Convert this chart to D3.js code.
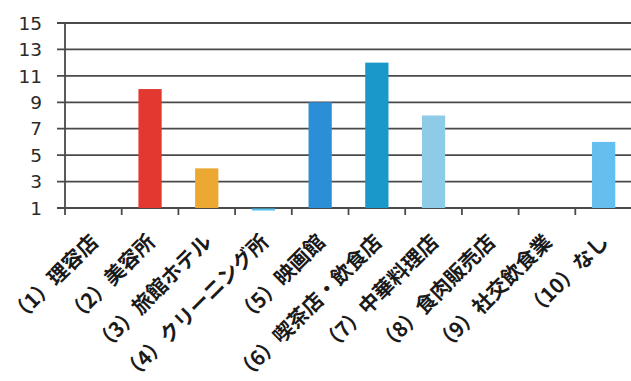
<!DOCTYPE html>
<html>
<head>
<meta charset="utf-8">
<script src="https://cdn.jsdelivr.net/npm/d3@7"></script>
<style>
  html, body { margin: 0; padding: 0; background: #fff; }
  svg { display: block; }
</style>
</head>
<body>
<svg id="chart" width="631" height="381"></svg>
<script>
// Categories (business types) and counts
const categories = [
  "（1）理容店",
  "（2）美容所",
  "（3）旅館ホテル",
  "（4）クリーニング所",
  "（5）映画館",
  "（6）喫茶店・飲食店",
  "（7）中華料理店",
  "（8）食肉販売店",
  "（9）社交飲食業",
  "（10）なし"
];
const counts = [0, 10, 4, 1, 9, 12, 8, 0, 0, 6];
const barColors = [
  "#e2382f", "#e2382f", "#eba832", "#4fc3ec", "#2a8fd6",
  "#1899c9", "#8dcbe6", "#64bff0", "#64bff0", "#64bff0"
];
const yTicks = [1, 3, 5, 7, 9, 11, 13, 15];

const svg = d3.select("#chart");
const plotLeft = 65, plotRight = 632, plotTop = 23, plotBottom = 208;

const x = d3.scaleBand().domain(categories).range([plotLeft, plotRight]).padding(0);
const y = d3.scaleLinear().domain([1, 15]).range([plotBottom, plotTop]);

const gridColor = "#4a4a4a";

// Horizontal gridlines (extend past the axis as outside tick marks)
svg.append("g")
  .selectAll("line")
  .data(yTicks)
  .join("line")
  .attr("x1", plotLeft - 8)
  .attr("x2", plotRight)
  .attr("y1", d => y(d))
  .attr("y2", d => y(d))
  .attr("stroke", gridColor)
  .attr("stroke-width", 1.8);

// Vertical axis line
svg.append("line")
  .attr("x1", plotLeft).attr("x2", plotLeft)
  .attr("y1", y(15)).attr("y2", plotBottom + 7)
  .attr("stroke", gridColor).attr("stroke-width", 1.8);

// Category boundary ticks below the baseline
svg.append("g")
  .selectAll("line")
  .data(categories.slice(1))
  .join("line")
  .attr("x1", d => x(d)).attr("x2", d => x(d))
  .attr("y1", plotBottom).attr("y2", plotBottom + 7)
  .attr("stroke", gridColor).attr("stroke-width", 1.8);

// Y tick labels
svg.append("g")
  .selectAll("text")
  .data(yTicks)
  .join("text")
  .attr("x", 42)
  .attr("y", d => y(d))
  .attr("dy", "0.36em")
  .attr("text-anchor", "end")
  .attr("font-family", "'DejaVu Sans', sans-serif")
  .attr("font-size", 18.5)
  .attr("fill", "#2a2a2a")
  .text(d => d);

// Bars, rising from the axis minimum (1)
const barW = x.bandwidth() * 0.41;
const bars = categories.map((c, i) => ({ c, v: counts[i], color: barColors[i] }))
  .filter(d => d.v >= 1);

svg.append("g")
  .selectAll("rect")
  .data(bars)
  .join("rect")
  .attr("x", d => x(d.c) + (x.bandwidth() - barW) / 2)
  .attr("width", barW)
  .attr("y", d => d.v > 1 ? y(d.v) : plotBottom + 0.5)
  .attr("height", d => d.v > 1 ? y(1) - y(d.v) : 2)
  .attr("fill", d => d.color);

// Rotated category labels
svg.append("g")
  .selectAll("text")
  .data(categories)
  .join("text")
  .attr("transform", d => `translate(${x(d) + x.bandwidth() / 2 + 1},${plotBottom + 30}) rotate(-45)`)
  .attr("dy", "0.36em")
  .attr("text-anchor", "end")
  .attr("font-family", "'Noto Sans CJK JP', sans-serif")
  .attr("font-weight", "bold")
  .attr("font-size", 20.5)
  .attr("fill", "#1a1a1a")
  .text(d => d);
</script>
</body>
</html>
